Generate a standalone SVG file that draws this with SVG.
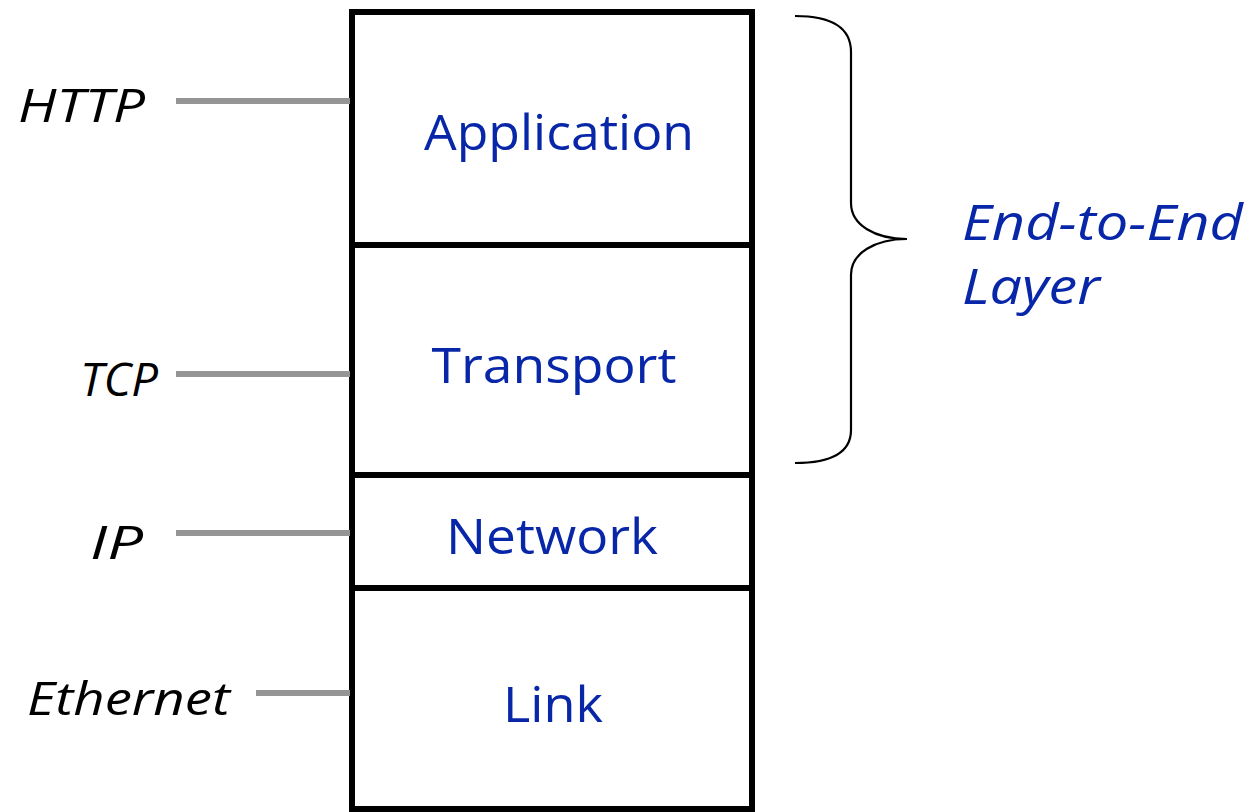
<svg xmlns="http://www.w3.org/2000/svg" width="1253" height="812" viewBox="0 0 1253 812">
<style>
.box{fill:#fff;stroke:#000;stroke-width:6}
.conn{stroke:#959595;stroke-width:6;fill:none}
.proto{font-family:"Open Sans","DejaVu Sans",sans-serif;font-style:italic;font-size:46px;fill:#000}
.layer{font-family:"Open Sans","DejaVu Sans",sans-serif;font-size:50px;fill:#0826a8;text-anchor:middle}
.note{font-family:"Open Sans","DejaVu Sans",sans-serif;font-style:italic;font-size:50px;fill:#0826a8}
.brace{fill:none;stroke:#000;stroke-width:2.2}
</style>
<rect width="1253" height="812" fill="#fff"/>
<g id="application"><rect class="box" x="352" y="12" width="400" height="233"/><text class="layer" x="559" y="150" textLength="270" lengthAdjust="spacingAndGlyphs">Application</text></g>
<g id="transport"><rect class="box" x="352" y="245" width="400" height="230"/><text class="layer" x="554" y="383" textLength="245" lengthAdjust="spacingAndGlyphs">Transport</text></g>
<g id="network"><rect class="box" x="352" y="475" width="400" height="113"/><text class="layer" x="552" y="554" textLength="212" lengthAdjust="spacingAndGlyphs">Network</text></g>
<g id="link"><rect class="box" x="352" y="588" width="400" height="221"/><text class="layer" x="553" y="722" textLength="100" lengthAdjust="spacingAndGlyphs">Link</text></g>
<g id="http"><text class="proto" x="18" y="122" textLength="127" lengthAdjust="spacingAndGlyphs">HTTP</text></g>
<g id="tcp"><text class="proto" x="80" y="396" textLength="78" lengthAdjust="spacingAndGlyphs">TCP</text></g>
<g id="ip"><text class="proto" x="90" y="559" textLength="53" lengthAdjust="spacingAndGlyphs">IP</text></g>
<g id="ethernet"><text class="proto" x="27" y="715" textLength="203" lengthAdjust="spacingAndGlyphs">Ethernet</text></g>
<g id="end-to-end"><path class="brace" d="M795,16 C835,16 851,30 851,52 L851,203 C851,225 875,239 907,239 C875,239 851,253 851,275 L851,430 C851,450 835,463 795,463"/><text class="note" x="962" y="240" textLength="281" lengthAdjust="spacingAndGlyphs">End-to-End</text><text class="note" x="962" y="304" textLength="138" lengthAdjust="spacingAndGlyphs">Layer</text></g>
<g id="connectors">
<line class="conn" x1="176" y1="101" x2="350" y2="101"/>
<line class="conn" x1="176" y1="374" x2="350" y2="374"/>
<line class="conn" x1="176" y1="533" x2="350" y2="533"/>
<line class="conn" x1="256" y1="693" x2="350" y2="693"/>
</g>
</svg>
